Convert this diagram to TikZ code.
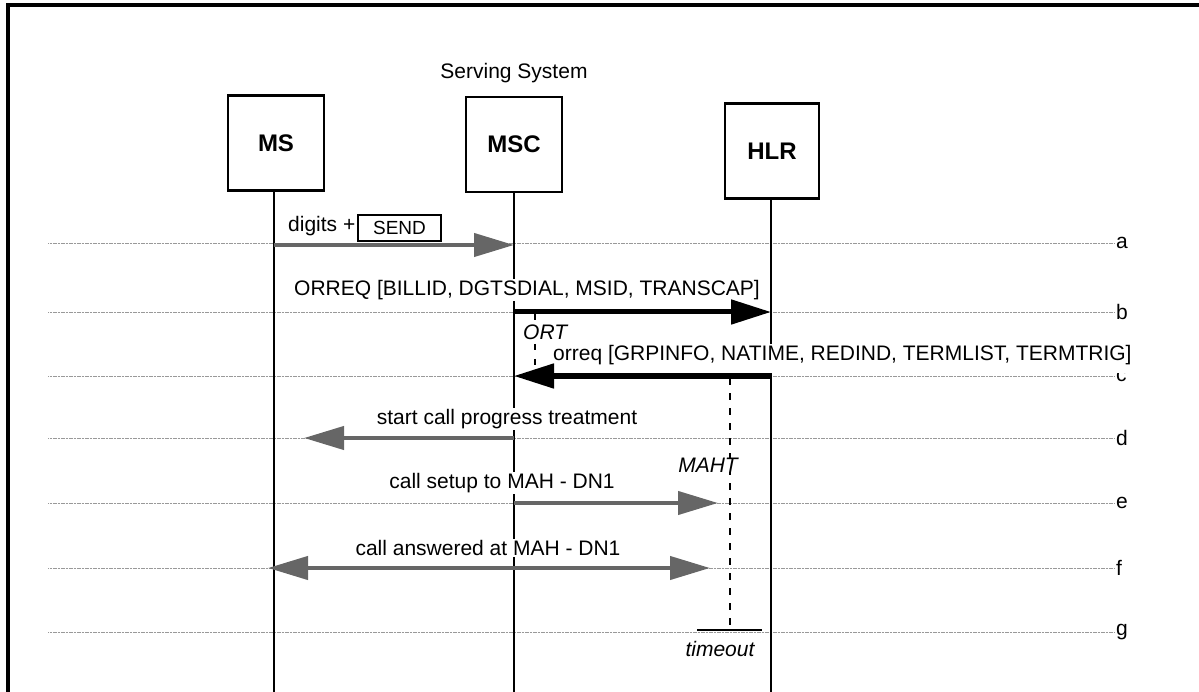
\documentclass[tikz,border=0pt]{standalone}
\usepackage{fontspec}
\setmainfont{Liberation Sans}
\usetikzlibrary{arrows.meta}
\tikzset{
  ent/.style={draw, line width=2.6pt, minimum width=96pt, minimum height=95pt, font=\fontsize{24}{28}\selectfont\bfseries},
  life/.style={line width=2.8pt},
  ref/.style={draw=black!40, line width=0.9pt, dash pattern=on 1.2pt off 0.4pt},
  gmsg/.style={draw=black!60, line width=4.2pt, -{Triangle[length=40pt,width=23pt]}},
  gmsgb/.style={draw=black!60, line width=4.2pt, {Triangle[length=40pt,width=23pt]}-{Triangle[length=40pt,width=23pt]}},
  bmsg/.style={draw=black, line width=5pt, -{Triangle[length=40pt,width=24pt]}},
  lbl/.style={font=\fontsize{21}{24}\selectfont, inner sep=1pt},
  mlbl/.style={font=\fontsize{21}{24}\selectfont, inner sep=1pt, fill=white},
  ilbl/.style={font=\fontsize{21}{24}\selectfont\itshape, inner sep=0pt, fill=white},
  timer/.style={line width=2.2pt, dash pattern=on 6.5pt off 8.5pt},
}
\begin{document}
\begin{tikzpicture}[x=1pt,y=-1pt]
\useasboundingbox (0,0) rectangle (1199,692);
% frame
\coordinate (ftr) at (1199,5);
\coordinate (ftl) at (8,5);
\coordinate (fbl) at (8,692);
\draw[line width=3.2pt] (ftr) -- (ftl) -- (fbl);

\node[lbl] (ss) at (514,73) {Serving System};

% entities
\node[ent] (ms) at (276,143) {MS};
\node[ent] (msc) at (514,144.5) {MSC};
\node[ent, minimum width=94pt] (hlr) at (772,151) {HLR};

\coordinate (msb) at (274,692);
\coordinate (mscb) at (514,692);
\coordinate (hlrb) at (771,692);

% reference lines
\foreach \y/\l in {243/a,312/b,376/c,438/d,503/e,568/f,632/g}{
  \coordinate (rl\l) at (48,\y);
  \coordinate (rr\l) at (1114,\y);
  \draw[ref] (rl\l) -- (rr\l);
  \node[lbl, anchor=west, inner sep=2pt] (let\l) at (rr\l) {\l};
}

% lifelines
\draw[life] (ms.south -| msb) -- (msb);
\draw[life] (msc.south -| mscb) -- (mscb);
\draw[life] (hlr.south -| hlrb) -- (hlrb);

% message a
\coordinate (a1) at (274,245);
\coordinate (a2) at (514,245);
\draw[gmsg] (a1) -- (a2);
\node[mlbl, anchor=west] (digits) at (287,226) {digits +};
\node[draw, line width=1.8pt, fill=white, minimum width=83pt, minimum height=26pt, inner sep=0pt, font=\fontsize{19}{22}\selectfont] (send) at (399.5,228) {SEND};

% message b
\coordinate (b1) at (514,312);
\coordinate (b2) at (771,312);
\node[mlbl, anchor=west] (blbl) at (293,290) {ORREQ [BILLID, DGTSDIAL, MSID, TRANSCAP]};
\draw[bmsg] (b1) -- (b2);

% ORT timer
\coordinate (ort1) at (535,314);
\coordinate (ort2) at (535,376);
\draw[timer] (ort1) -- (ort2);
\node[ilbl, anchor=west] (ort) at (523,332) {ORT};

% message c
\coordinate (c1) at (771,376);
\coordinate (c2) at (514,376);
\node[mlbl, anchor=base west, text depth=12pt] (clbl) at (552,360.5) {orreq [GRPINFO, NATIME, REDIND, TERMLIST, TERMTRIG]};
\draw[bmsg] (c1) -- (c2);

% MAHT timer
\coordinate (m1) at (730,378);
\coordinate (m2) at (730,630);
\draw[timer] (m1) -- (m2);
\node[ilbl] (maht) at (708,465) {MAHT};
\coordinate (t1) at (697,630);
\coordinate (t2) at (762,630);
\draw[line width=2.2pt] (t1) -- (t2);
\node[ilbl, fill=none] (timeout) at (720,649) {timeout};

% message d
\coordinate (d1) at (514,438);
\coordinate (d2) at (304,438);
\draw[gmsg] (d1) -- (d2);
\node[mlbl] (dlbl) at (507,419) {start call progress treatment};

% message e
\coordinate (e1) at (514,503);
\coordinate (e2) at (718,503);
\draw[gmsg] (e1) -- (e2);
\node[mlbl] (elbl) at (502,483) {call setup to MAH - DN1};

% message f
\coordinate (f1) at (268,568);
\coordinate (f2) at (710,568);
\draw[gmsgb] (f1) -- (f2);
\node[mlbl] (flbl) at (488,548) {call answered at MAH - DN1};
\end{tikzpicture}
\end{document}
